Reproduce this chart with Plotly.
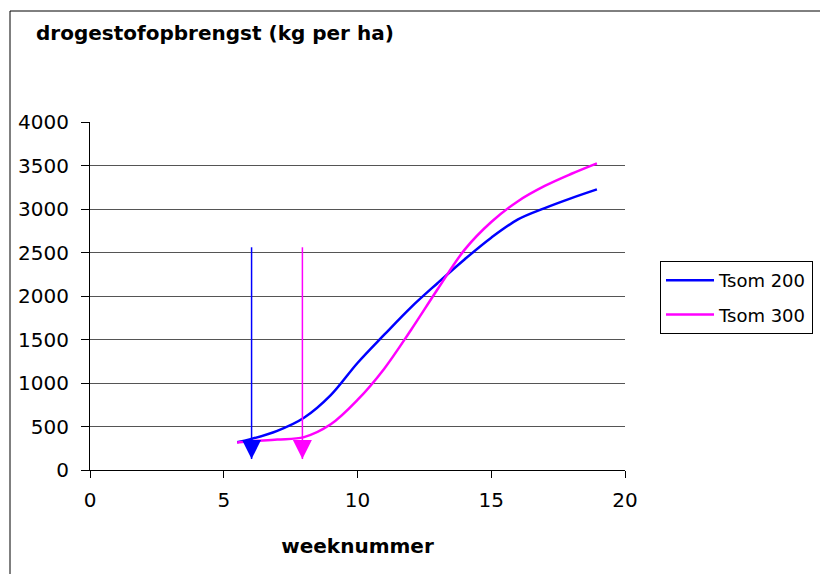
import plotly.graph_objects as go

# ---- data ----
weeks = [5.5, 6, 7, 8, 9, 10, 11, 12, 13, 14, 15, 16, 17, 18, 18.95]
yield_tsom200 = [320, 355, 450, 600, 860, 1230, 1555, 1870, 2150, 2420, 2670, 2880, 3010, 3125, 3225]
yield_tsom300 = [315, 330, 350, 378, 525, 805, 1165, 1610, 2080, 2530, 2850, 3090, 3265, 3405, 3525]
series_names = ["Tsom 200", "Tsom 300"]
series_colors = ["#0000FF", "#FF00FF"]

# arrows marking the start weeks
arrow_week = [6.04, 7.94]
arrow_top = [2560, 2560]
arrow_tip = [126, 126]

x_ticks = [0, 5, 10, 15, 20]
y_ticks = [0, 500, 1000, 1500, 2000, 2500, 3000, 3500, 4000]

FONT = "DejaVu Sans"

fig = go.Figure()
for name, ys, col in zip(series_names, [yield_tsom200, yield_tsom300], series_colors):
    fig.add_trace(go.Scatter(
        x=weeks, y=ys, name=name, mode="lines", legendgroup=name,
        line=dict(color=col, width=2.5, shape="spline", smoothing=1.0),
    ))

for xw, yt, yb, col in zip(arrow_week, arrow_top, arrow_tip, series_colors):
    fig.add_trace(go.Scatter(
        x=[xw, xw], y=[yt, yb], mode="lines", showlegend=False, hoverinfo="skip",
        line=dict(color=col, width=1.5),
    ))
    fig.add_trace(go.Scatter(
        x=[xw], y=[yb], mode="markers", showlegend=False, hoverinfo="skip",
        marker=dict(symbol="arrow-down", size=19, color=col, line=dict(width=0)),
    ))

W, H = 820, 574
L, T = 90, 122
pw, ph = 535, 348
R, B = W - L - pw, H - T - ph

def px_to_paper_x(px):
    return (px - L) / pw

def px_to_paper_y(py):
    return (H - B - py) / ph

# chart-area frame: only its left and top edges are inside the picture
frame_left, frame_top = px_to_paper_x(10), px_to_paper_y(11)
frame_right, frame_bottom = px_to_paper_x(W + 20), px_to_paper_y(H + 20)

fig.update_layout(
    width=W, height=H,
    margin=dict(l=L, r=R, t=T, b=B, autoexpand=False),
    paper_bgcolor="white", plot_bgcolor="white",
    font=dict(family=FONT, size=20, color="black"),
    title=dict(
        text="<b>drogestofopbrengst (kg per ha)</b>",
        xref="container", yref="container",
        x=36 / W, y=1 - 33 / H, xanchor="left", yanchor="middle",
        font=dict(family=FONT, size=20, color="black"),
    ),
    xaxis=dict(
        range=[0, 20], tickvals=x_ticks, ticks="outside", ticklen=7,
        tickcolor="black", showline=True, linecolor="black", linewidth=1,
        showgrid=False, zeroline=False, ticklabelstandoff=5,
        title=dict(text="<b>weeknummer</b>", standoff=27,
                   font=dict(family=FONT, size=20)),
        tickfont=dict(family=FONT, size=20),
    ),
    yaxis=dict(
        range=[0, 4000], tickvals=y_ticks, ticks="outside", ticklen=8,
        tickcolor="black", showline=True, linecolor="black", linewidth=1,
        showgrid=True, gridcolor="#555555", gridwidth=1, zeroline=False,
        ticklabelstandoff=8,
        tickfont=dict(family=FONT, size=20),
    ),
    legend=dict(
        x=px_to_paper_x(660), y=px_to_paper_y(261), xanchor="left", yanchor="top",
        bordercolor="black", borderwidth=1, bgcolor="white",
        font=dict(family=FONT, size=18), tracegroupgap=8, itemwidth=48,
    ),
    shapes=[
        dict(type="line", xref="paper", yref="paper", layer="above",
             x0=frame_left, x1=frame_left, y0=frame_bottom, y1=frame_top,
             line=dict(color="black", width=1)),
        dict(type="line", xref="paper", yref="paper", layer="above",
             x0=frame_left, x1=frame_right, y0=frame_top, y1=frame_top,
             line=dict(color="black", width=1)),
    ],
)

fig.write_html(
    "out.html",
    config={"displayModeBar": False},
    post_script="document.body.style.margin='0';document.body.style.overflow='hidden';",
)
